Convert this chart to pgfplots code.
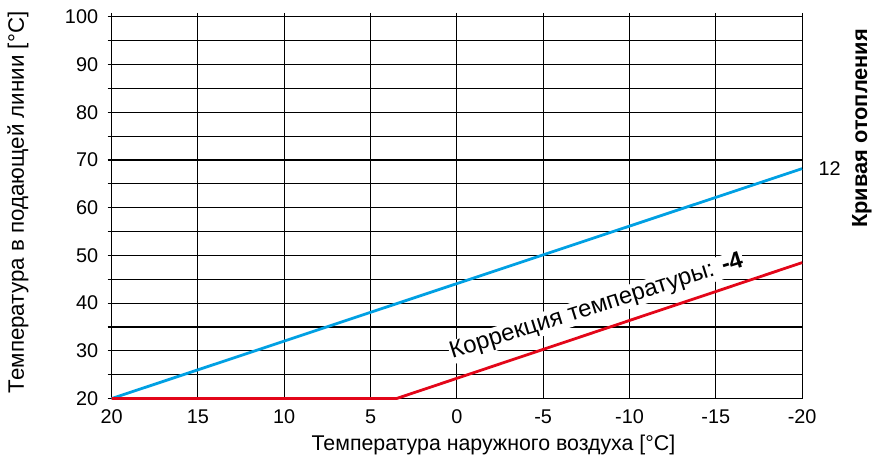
\documentclass[border=0pt]{standalone}
\usepackage{pgfplots}
\pgfplotsset{compat=1.18}
\usepackage{fontspec}
\setmainfont{Liberation Sans}
\definecolor{curveblue}{RGB}{0,160,227}
\definecolor{curvered}{RGB}{227,6,25}
\begin{document}
\begin{tikzpicture}
\begin{axis}[
    name=ax,
    scale only axis,
    width=693bp, height=383bp,
    xmin=-20, xmax=20, ymin=20, ymax=100,
    x dir=reverse,
    xtick={-20,-15,...,20},
    ytick={20,30,...,100},
    minor ytick={25,35,...,95},
    grid=both,
    major grid style={black, line width=1.1bp},
    minor grid style={black, line width=1.1bp},
    axis line style={black, line width=1.1bp},
    tick style={black, line width=1.1bp},
    tick align=outside,
    major tick length=4bp, minor tick length=4bp,
    xtick pos=top, xticklabel pos=bottom,
    ytick pos=left,
    font=\fontsize{20}{24}\selectfont,
    /pgf/number format/assume math mode=true,
    yticklabel style={xshift=-6bp},
    xticklabel style={yshift=-4bp},
    clip=false,
]
\node[fill=white, inner sep=1bp, rotate=17.5, font=\fontsize{24}{28}\selectfont] at (axis cs:-8.1,39.2)
    {Коррекция температуры: \textbf{-4}};
\addplot[curveblue, line width=2.8bp] coordinates {(20,20) (-20,68.2)};
\addplot[curvered, line width=2.8bp] coordinates {(20,20) (3.5,20) (-20,48.5)};
\node[anchor=west, font=\fontsize{20}{24}\selectfont] at (axis cs:-20,68.2) [xshift=13bp] {12};
\node[rotate=90, font=\fontsize{22.5}{26}\selectfont] at ([xshift=-94bp]rel axis cs:0,0.514) {Температура в подающей линии [°C]};
\node[font=\fontsize{21.5}{25}\selectfont] at ([yshift=-47bp]rel axis cs:0.553,0) {Температура наружного воздуха [°C]};
\node[rotate=90, font=\fontsize{22}{26}\selectfont\bfseries] at ([xshift=60bp]rel axis cs:1,0.708) {Кривая отопления};
\end{axis}
\path ([xshift=-112bp,yshift=-57bp]ax.south west) rectangle ([xshift=70bp,yshift=17bp]ax.north east);
\end{tikzpicture}
\end{document}
